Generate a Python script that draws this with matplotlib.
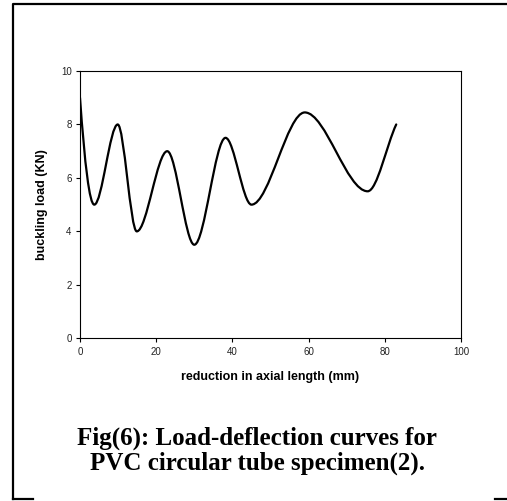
import matplotlib
matplotlib.use("Agg")
import matplotlib.pyplot as plt
from matplotlib.path import Path
from matplotlib.patches import PathPatch
from matplotlib.lines import Line2D

# turning points: reduction (mm) vs buckling load (KN)
reduction = [0, 3.75, 9.9, 14.9, 22.9, 30.0, 38.2, 45.0, 59.0, 75.5, 83.0]
load = [9.0, 5.0, 8.0, 4.0, 7.0, 3.5, 7.5, 5.0, 8.45, 5.5, 8.0]
# slope at each point (0 at the peaks and troughs)
slope = [-2.0, 0, 0, 0, 0, 0, 0, 0, 0, 0, 0.3]

x_ticks = [0, 20, 40, 60, 80, 100]
y_ticks = [0, 2, 4, 6, 8, 10]

W, H = 507, 501
fig = plt.figure(figsize=(W / 100, H / 100), dpi=100)
ax = fig.add_axes([80 / W, 1 - 338.3 / H, (461 - 80) / W, (338.3 - 71) / H])

# smooth line like Excel's "smoothed line": cubic bezier between the points
verts = [(reduction[0], load[0])]
codes = [Path.MOVETO]
for i in range(len(reduction) - 1):
    x0, y0, x1, y1 = reduction[i], load[i], reduction[i + 1], load[i + 1]
    h = (x1 - x0) / 3.0
    verts += [(x0 + h, y0 + slope[i] * h), (x1 - h, y1 - slope[i + 1] * h), (x1, y1)]
    codes += [Path.CURVE4] * 3
ax.add_patch(PathPatch(Path(verts, codes), fill=False, lw=1.6, color="black",
                       capstyle="round", joinstyle="round"))

ax.set_xlim(0, 100)
ax.set_ylim(0, 10)
ax.set_xticks(x_ticks)
ax.set_yticks(y_ticks)
ax.tick_params(direction="out", length=3, width=0.8, labelsize=7, pad=3,
               colors="black", labelcolor="#222222")
for lab in ax.get_xticklabels() + ax.get_yticklabels():
    lab.set_fontfamily("Liberation Sans")
for sp in ax.spines.values():
    sp.set_linewidth(0.8)
    sp.set_color("black")

ax.set_xlabel("reduction in axial length (mm)", fontsize=9, fontweight="bold",
              fontfamily="Liberation Sans", va="center")
ax.set_ylabel("buckling load (KN)", fontsize=9, fontweight="bold",
              fontfamily="Liberation Sans", va="center")
ax.xaxis.set_label_coords(0.5, (338.3 - 377) / (338.3 - 71))
ax.yaxis.set_label_coords((42 - 80) / (461 - 80), 0.5)

fig.text(257 / W, 1 - 438 / H, "Fig(6): Load-deflection curves for",
         ha="center", va="center", fontsize=18, fontweight="bold",
         fontfamily="Liberation Serif")
fig.text(257 / W, 1 - 463 / H, "PVC circular tube specimen(2).",
         ha="center", va="center", fontsize=18, fontweight="bold",
         fontfamily="Liberation Serif")

# page frame around the figure
def frame(xs, ys):
    fig.add_artist(Line2D([x / W for x in xs], [1 - y / H for y in ys],
                          color="black", lw=1.6, transform=fig.transFigure))

frame([12.5, 12.5, 507], [499, 4, 4])
frame([12.5, 33], [499, 499])
frame([495, 507], [499, 499])

fig.savefig("out.png", dpi=100, facecolor="white")
